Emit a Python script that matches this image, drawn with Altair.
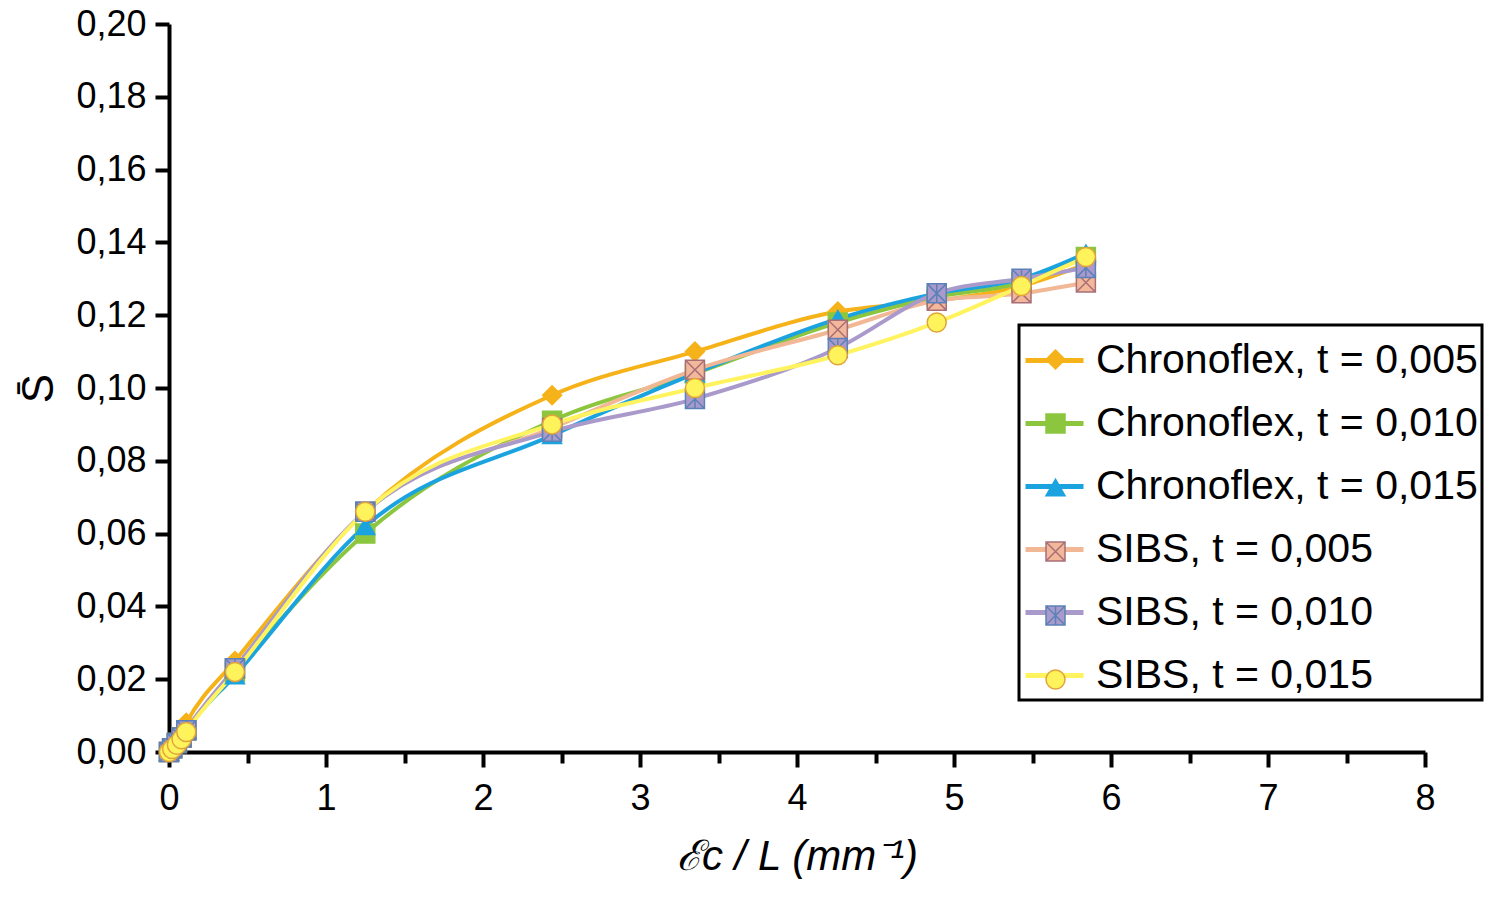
import altair as alt
import pandas as pd

# strain / length values (shared by all series)
x_values = [0, 0.02, 0.05, 0.08, 0.11, 0.42, 1.25, 2.44, 3.35, 4.26, 4.89, 5.43, 5.84]

series_names = [
    "Chronoflex, t = 0,005",
    "Chronoflex, t = 0,010",
    "Chronoflex, t = 0,015",
    "SIBS, t = 0,005",
    "SIBS, t = 0,010",
    "SIBS, t = 0,015",
]

chrono_005 = [0, 0.0012, 0.003, 0.0055, 0.008, 0.025, 0.066, 0.098, 0.110, 0.121, 0.124, 0.128, 0.134]
chrono_010 = [0, 0.001, 0.0025, 0.004, 0.006, 0.022, 0.060, 0.091, 0.104, 0.118, 0.125, 0.129, 0.136]
chrono_015 = [0, 0.001, 0.0025, 0.004, 0.006, 0.021, 0.062, 0.087, 0.104, 0.119, 0.126, 0.130, 0.137]
sibs_005 = [0, 0.001, 0.0025, 0.004, 0.006, 0.023, 0.066, 0.089, 0.105, 0.116, 0.124, 0.126, 0.129]
sibs_010 = [0, 0.001, 0.0025, 0.004, 0.006, 0.023, 0.066, 0.088, 0.097, 0.111, 0.126, 0.130, 0.133]
sibs_015 = [0, 0.0008, 0.002, 0.0035, 0.0055, 0.022, 0.066, 0.090, 0.100, 0.109, 0.118, 0.128, 0.136]

series_values = [chrono_005, chrono_010, chrono_015, sibs_005, sibs_010, sibs_015]

line_colors = ["#F6B219", "#8CC63F", "#1BA3E0", "#F2B896", "#A99ACB", "#FFF45F"]
fill_colors = ["#F6B219", "#8CC63F", "#1BA3E0", "#F3B79A", "#A99ACB", "#FFF35C"]
edge_colors = ["#F6B219", "#8CC63F", "#1BA3E0", "#A86F78", "#5B81B8", "#E0A53A"]

square_x = "M-1,-1L1,-1L1,1L-1,1Z M-1,-1L1,1 M1,-1L-1,1"
square_star = "M-1,-1L1,-1L1,1L-1,1Z M-1,-1L1,1 M1,-1L-1,1 M0,-1L0,1"
shapes = ["diamond", "square", "triangle-up", square_x, square_star, "circle"]

rows = []
for name, ys in zip(series_names, series_values):
    for xv, yv in zip(x_values, ys):
        rows.append({"series": name, "x": xv, "y": yv})
df = pd.DataFrame(rows)

font = "Liberation Sans"

x_enc = alt.X(
    "x:Q",
    scale=alt.Scale(domain=[0, 8], nice=False),
    axis=alt.Axis(
        title="ℰc / L (mm⁻¹)",
        titleFontStyle="italic",
        titleFontWeight="normal",
        titleFontSize=42,
        titlePadding=20,
        values=[v / 2 for v in range(17)],
        labelExpr="datum.value % 1 === 0 ? format(datum.value, 'd') : ''",
        labelOverlap=False,
        labelFlush=False,
        tickSize={"condition": {"test": "datum.value % 1 === 0", "value": 15}, "value": 11},
        labelPadding=14,
    ),
)
y_enc = alt.Y(
    "y:Q",
    scale=alt.Scale(domain=[0, 0.2], nice=False),
    axis=alt.Axis(
        title="S̄",
        titleFontSize=44,
        titleFontWeight="normal",
        titlePadding=14,
        values=[v / 100 for v in range(0, 21, 2)],
        labelExpr="replace(format(datum.value, '.2f'), '.', ',')",
        tickSize=14,
        labelPadding=9,
    ),
)

lines = alt.Chart(df).mark_line(interpolate="monotone", strokeWidth=4).encode(
    x=x_enc,
    y=y_enc,
    stroke=alt.Stroke(
        "series:N",
        scale=alt.Scale(domain=series_names, range=line_colors),
        legend=alt.Legend(
            title=None,
            orient="none",
            legendX=850,
            legendY=301,
            symbolType="stroke",
            symbolSize=3364,
            symbolStrokeWidth=5,
            labelFontSize=41,
            labelOffset=10,
            strokeColor="black",
            fillColor="white",
            padding=4,
            rowPadding=11,
            labelLimit=0,
        ),
    ),
    order=alt.Order("series:N"),
)

marker_legend = alt.Legend(
    title=None,
    orient="none",
    legendX=862,
    legendY=311,
    symbolSize=361,
    symbolStrokeWidth=1.5,
    symbolOpacity=1,
    labelFontSize=41,
    labelOffset=30,
    labelColor="transparent",
    padding=4,
    rowPadding=22,
    labelLimit=0,
)

points = alt.Chart(df).mark_point(filled=True, size=361, opacity=1, strokeWidth=1.5).encode(
    x="x:Q",
    y="y:Q",
    fill=alt.Fill("series:N", scale=alt.Scale(domain=series_names, range=fill_colors), legend=marker_legend),
    shape=alt.Shape("series:N", scale=alt.Scale(domain=series_names, range=shapes), legend=marker_legend),
    stroke=alt.Stroke("series:N", scale=alt.Scale(domain=series_names, range=edge_colors), legend=marker_legend),
)

chart = (
    alt.layer(lines, points)
    .resolve_scale(stroke="independent", fill="independent", shape="independent")
    .properties(
        width=1256,
        height=728,
        autosize=alt.AutoSizeParams(type="none"),
        padding={"left": 161, "top": 16, "right": 66, "bottom": 130},
    )
    .configure_view(stroke=None)
    .configure_axis(
        grid=False,
        domainColor="black",
        domainWidth=4,
        tickColor="black",
        tickWidth=4,
        labelFont=font,
        labelFontSize=36,
        labelColor="black",
        titleFont=font,
        titleColor="black",
    )
    .configure_legend(labelFont=font, labelColor="black", strokeWidth=3)
)

chart.save("out.html", embed_options={"renderer": "svg", "actions": False})
